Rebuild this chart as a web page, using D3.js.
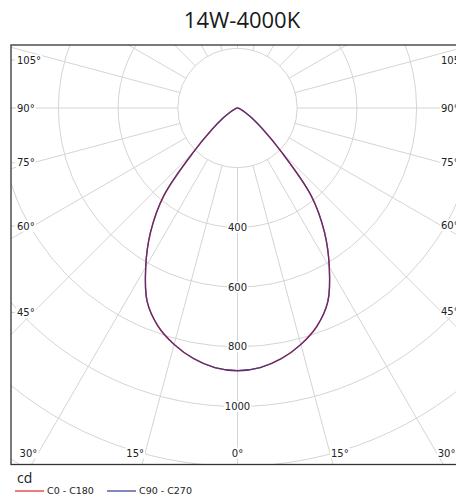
<!DOCTYPE html>
<html>
<head>
<meta charset="utf-8">
<script src="https://cdn.jsdelivr.net/npm/d3@7"></script>
<style>
	body { margin: 0; background: #fff; }
	svg { display: block; }
</style>
</head>
<body>
<div id="chart"></div>
<script>
"use strict"

// luminous intensity (cd) by angle from nadir, both planes
var angles = [0, 5, 10, 15, 20, 25, 30, 35, 40, 45, 50, 55, 60, 65, 70, 75, 80, 85, 90];
var c0c180 = [880, 873, 852, 820, 778, 716, 615, 508, 385, 208, 110, 60, 30, 15, 8, 4, 2, 1, 0];
var c90c270 = [880, 873, 852, 820, 778, 716, 615, 508, 385, 208, 110, 60, 30, 15, 8, 4, 2, 1, 0];
var ringValues = [200, 400, 600, 800, 1000, 1200, 1400];
var ringLabels = [400, 600, 800, 1000];
var spokeAngles = d3.range(0, 360, 15);
var angleLabels = [0, 15, 30, 45, 60, 75, 90, 105];
var seriesNames = ["C0 - C180", "C90 - C270"];
var seriesColors = ["#e3262b", "#2e3a92"];

var width = 456, height = 500;
var box = {left: 11, top: 45, right: 480, bottom: 464.5};
var cx = 237.5, cy = 108;
var fontLabel = "'DejaVu Sans', Verdana, sans-serif";

var r = d3.scaleLinear().domain([0, 1200]).range([0, 358.2]);

function polar(a, v) {
	// a in degrees from nadir, positive to the right
	var t = a * Math.PI / 180;
	return [cx + r(v) * Math.sin(t), cy + r(v) * Math.cos(t)];
}

var svg = d3.select("#chart").append("svg")
	.attr("width", width)
	.attr("height", height)
	;

svg.append("text")
	.attr("x", 242)
	.attr("y", 28)
	.attr("text-anchor", "middle")
	.style("font-family", "'Open Sans', sans-serif")
	.style("font-size", "22px")
	.attr("fill", "#1a1a1a")
	.text("14W-4000K")
	;

svg.append("clipPath").attr("id", "clipBox")
	.append("rect")
	.attr("x", box.left)
	.attr("y", box.top)
	.attr("width", box.right - box.left)
	.attr("height", box.bottom - box.top)
	;

var grid = svg.append("g").attr("clip-path", "url(#clipBox)");

grid.selectAll("circle.ring")
	.data(ringValues)
	.enter().append("circle")
	.attr("class", "ring")
	.attr("cx", cx)
	.attr("cy", cy)
	.attr("r", function(d) { return r(d); })
	.attr("fill", "none")
	.attr("stroke", "#d4d4d4")
	.attr("stroke-width", 1)
	;

grid.selectAll("line.spoke")
	.data(spokeAngles)
	.enter().append("line")
	.attr("class", "spoke")
	.attr("x1", function(d) { return polar(d, 200)[0]; })
	.attr("y1", function(d) { return polar(d, 200)[1]; })
	.attr("x2", function(d) { return polar(d, 3000)[0]; })
	.attr("y2", function(d) { return polar(d, 3000)[1]; })
	.attr("stroke", "#d4d4d4")
	.attr("stroke-width", 1)
	;

// label background + text helper
function addLabel(g, x, y, txt, anchor) {
	var t = g.append("text")
		.attr("x", x)
		.attr("y", y)
		.attr("dy", "0.35em")
		.attr("text-anchor", anchor)
		.style("font-family", fontLabel)
		.style("font-size", "10px")
		.attr("fill", "#222")
		.text(txt)
		;
	var b = t.node().getBBox();
	g.insert("rect", function() { return t.node(); })
		.attr("x", b.x - 1)
		.attr("y", b.y)
		.attr("width", b.width + 2)
		.attr("height", b.height)
		.attr("fill", "#fff")
		;
}

ringLabels.forEach(function(v) {
	addLabel(grid, cx, cy + r(v), String(v), "middle");
});

// angle labels where the spokes leave the plot on the sides and bottom
var inset = {left: 33, right: 441, bottom: 453, top: 60};
angleLabels.forEach(function(a) {
	[-1, 1].forEach(function(s) {
		if (a == 0 && s < 0) return;
		var t = a * Math.PI / 180;
		var dx = Math.sin(t), dy = Math.cos(t);
		var tSide = dx > 1e-6 ? (s > 0 ? inset.right - cx : cx - inset.left) / dx : Infinity;
		var tBot = dy > 1e-6 ? (inset.bottom - cy) / dy : Infinity;
		if (tSide < tBot) {
			var y = Math.max(inset.top, Math.min(inset.bottom, cy + dy * tSide));
			if (s < 0) {
				addLabel(grid, 17, y, a + "°", "start");
				grid.append("line")
					.attr("x1", box.left).attr("x2", 15)
					.attr("y1", y).attr("y2", y)
					.attr("stroke", "#d4d4d4")
					;
			} else {
				addLabel(grid, inset.right, y, a + "°", "start");
			}
		} else {
			var x = cx + s * dx * tBot;
			var anchor = a == 0 ? "middle" : (s < 0 ? "end" : "start");
			if (x < inset.left) { x = 19; anchor = "start"; }
			if (x > inset.right) { x = 438; anchor = "start"; }
			addLabel(grid, x + (a == 0 ? 0 : s * 1), inset.bottom, a + "°", anchor);
		}
	});
});

// curves: left half mirrors the right half
function curvePoints(values) {
	var pts = [];
	for (var i = values.length - 1; i > 0; i--) pts.push(polar(-angles[i], values[i]));
	for (var j = 0; j < values.length; j++) pts.push(polar(angles[j], values[j]));
	return pts;
}

var line = d3.line().curve(d3.curveCatmullRom.alpha(0.5));

grid.append("path")
	.attr("d", line(curvePoints(c0c180)))
	.attr("fill", "none")
	.attr("stroke", seriesColors[0])
	.attr("stroke-width", 1.5)
	;
grid.append("path")
	.attr("d", line(curvePoints(c90c270)))
	.attr("fill", "none")
	.attr("stroke", seriesColors[1])
	.attr("stroke-width", 1.2)
	.attr("stroke-opacity", 0.85)
	;

svg.append("rect")
	.attr("x", box.left)
	.attr("y", box.top)
	.attr("width", box.right - box.left)
	.attr("height", box.bottom - box.top)
	.attr("fill", "none")
	.attr("stroke", "#333")
	.attr("stroke-width", 1.3)
	;

// legend
svg.append("text")
	.attr("x", 17)
	.attr("y", 483)
	.style("font-family", "'Open Sans', sans-serif")
	.style("font-size", "14px")
	.attr("fill", "#222")
	.text("cd")
	;

var legend = svg.selectAll("g.legend")
	.data(seriesNames)
	.enter().append("g")
	.attr("class", "legend")
	.attr("transform", function(d, i) { return "translate(" + (15 + i * 92) + ",491)"; })
	;
legend.append("line")
	.attr("x1", 0).attr("x2", 29)
	.attr("y1", 0).attr("y2", 0)
	.attr("stroke", function(d, i) { return seriesColors[i]; })
	.attr("stroke-width", 1.2)
	;
legend.append("text")
	.attr("x", 32)
	.attr("y", 0)
	.attr("dy", "0.35em")
	.style("font-family", fontLabel)
	.style("font-size", "9.5px")
	.attr("fill", "#222")
	.text(function(d) { return d; })
	;
</script>
</body>
</html>
